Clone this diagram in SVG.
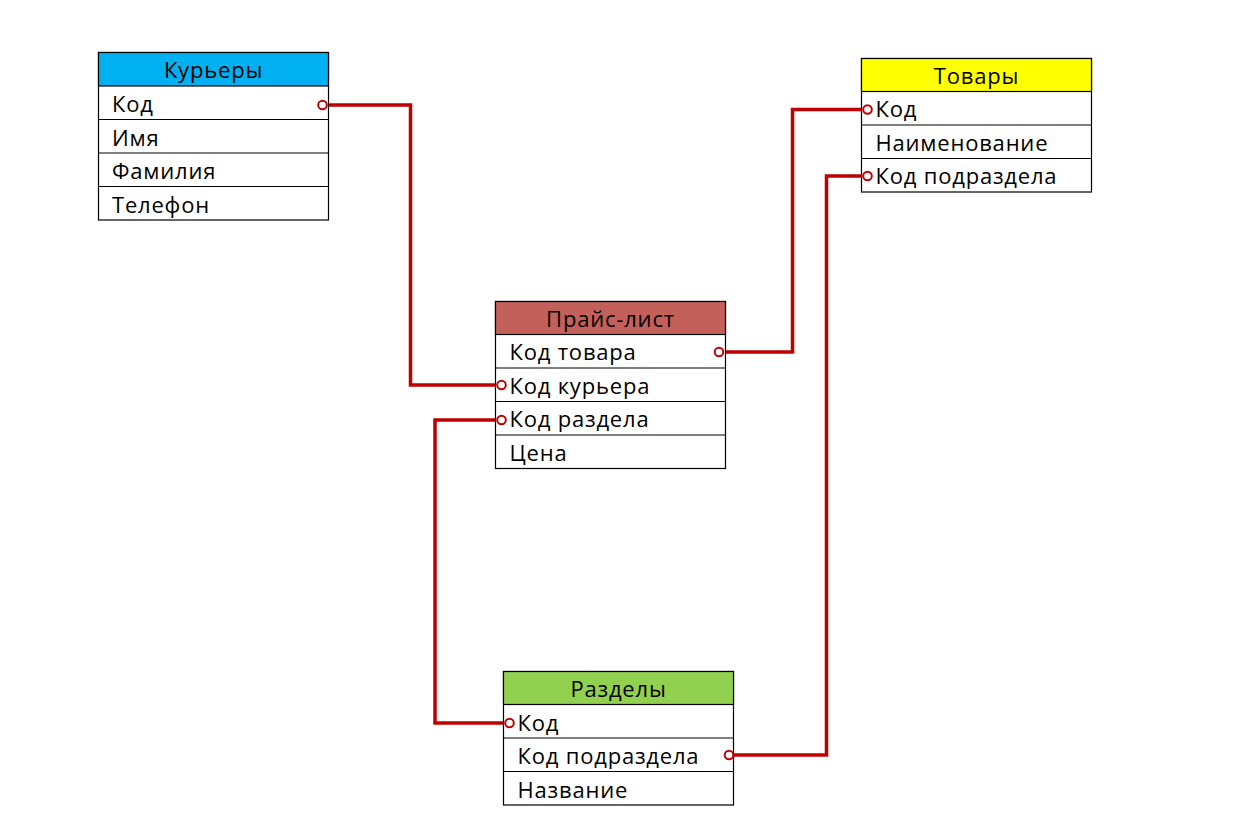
<svg xmlns="http://www.w3.org/2000/svg" width="1248" height="820" viewBox="0 0 1248 820">
<style>
.box{fill:#fff;stroke:#000;stroke-width:1.2}
.hdr{stroke:#000;stroke-width:1.2}
.sep{stroke:#000;stroke-width:1.2}
text{font-family:"Open Sans","Noto Sans","Liberation Sans",sans-serif;font-size:22px;letter-spacing:0.8px;fill:#000}
.h{text-anchor:middle}
.conn{fill:none;stroke:#C00000;stroke-width:3.5}
.dot{fill:#fff;stroke:#C00000;stroke-width:2}
</style>
<rect width="1248" height="820" fill="#fff"/>
<g id="connectors">
<polyline class="conn" points="326,105 410.5,105 410.5,385 497,385"/>
<polyline class="conn" points="723,352 792.5,352 792.5,109.5 863,109.5"/>
<polyline class="conn" points="497,420 435,420 435,723 505,723"/>
<polyline class="conn" points="733,755 826.5,755 826.5,176 863,176"/>
</g>
<g id="couriers">
<rect class="box" x="98.5" y="52.5" width="230" height="167.5"/>
<rect class="hdr" x="98.5" y="52.5" width="230" height="33.5" fill="#00B0F0"/>
<line class="sep" x1="98.5" y1="119.5" x2="328.5" y2="119.5"/>
<line class="sep" x1="98.5" y1="153" x2="328.5" y2="153"/>
<line class="sep" x1="98.5" y1="186.5" x2="328.5" y2="186.5"/>
<text class="h" x="213.5" y="77.5">Курьеры</text>
<text x="112" y="112">Код</text>
<text x="112" y="145.5">Имя</text>
<text x="112" y="179">Фамилия</text>
<text x="112" y="212.5">Телефон</text>
</g>
<g id="pricelist">
<rect class="box" x="495.5" y="301.5" width="230" height="167"/>
<rect class="hdr" x="495.5" y="301.5" width="230" height="33" fill="#C4605A"/>
<line class="sep" x1="495.5" y1="368" x2="725.5" y2="368"/>
<line class="sep" x1="495.5" y1="401.5" x2="725.5" y2="401.5"/>
<line class="sep" x1="495.5" y1="435" x2="725.5" y2="435"/>
<text class="h" x="610.5" y="326.5">Прайс-лист</text>
<text x="509.5" y="360">Код товара</text>
<text x="509.5" y="393.5">Код курьера</text>
<text x="509.5" y="427">Код раздела</text>
<text x="509.5" y="460.5">Цена</text>
</g>
<g id="goods">
<rect class="box" x="861.5" y="58.5" width="230" height="133.5"/>
<rect class="hdr" x="861.5" y="58.5" width="230" height="33" fill="#FFFF00"/>
<line class="sep" x1="861.5" y1="125" x2="1091.5" y2="125"/>
<line class="sep" x1="861.5" y1="158.5" x2="1091.5" y2="158.5"/>
<text class="h" x="976.5" y="83.5">Товары</text>
<text x="875.5" y="117">Код</text>
<text x="875.5" y="150.5">Наименование</text>
<text x="875.5" y="184">Код подраздела</text>
</g>
<g id="sections">
<rect class="box" x="503.5" y="671.5" width="230" height="133.5"/>
<rect class="hdr" x="503.5" y="671.5" width="230" height="33" fill="#92D050"/>
<line class="sep" x1="503.5" y1="738" x2="733.5" y2="738"/>
<line class="sep" x1="503.5" y1="771.5" x2="733.5" y2="771.5"/>
<text class="h" x="618.5" y="696.5">Разделы</text>
<text x="517.5" y="730.5">Код</text>
<text x="517.5" y="764">Код подраздела</text>
<text x="517.5" y="797.5">Название</text>
</g>
<g id="ends">
<circle class="dot" cx="322.5" cy="105" r="4.3"/>
<circle class="dot" cx="719" cy="352" r="4.3"/>
<circle class="dot" cx="501.5" cy="385" r="4.3"/>
<circle class="dot" cx="501.5" cy="420" r="4.3"/>
<circle class="dot" cx="867.5" cy="109.5" r="4.3"/>
<circle class="dot" cx="867.5" cy="176" r="4.3"/>
<circle class="dot" cx="509.5" cy="723" r="4.3"/>
<circle class="dot" cx="729" cy="755" r="4.3"/>
</g>
</svg>
